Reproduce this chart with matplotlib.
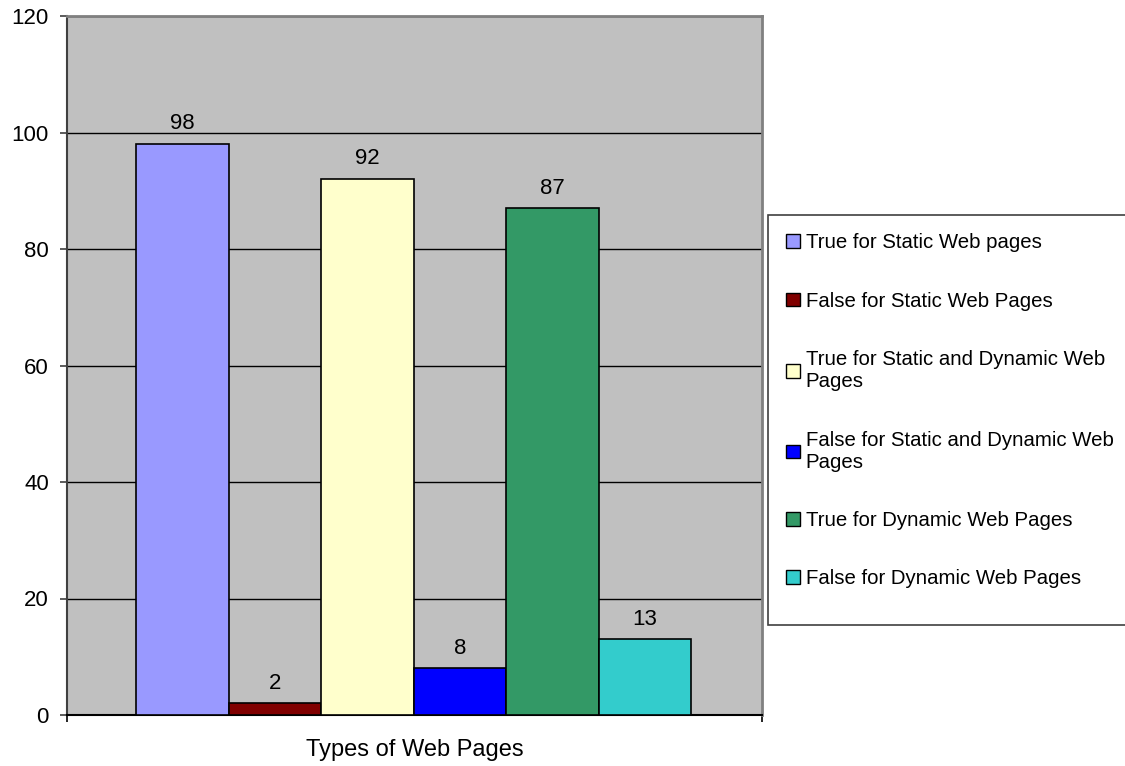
import matplotlib.pyplot as plt
from matplotlib.patches import Patch, Rectangle

plt.rcParams['font.family'] = ['Liberation Sans', 'DejaVu Sans']

# data
series_names = [
    "True for Static Web pages",
    "False for Static Web Pages",
    "True for Static and Dynamic Web\nPages",
    "False for Static and Dynamic Web\nPages",
    "True for Dynamic Web Pages",
    "False for Dynamic Web Pages",
]
series_values = [98, 2, 92, 8, 87, 13]
series_colors = ["#9999FF", "#800000", "#FFFFCC", "#0000FF", "#339966", "#33CCCC"]
y_ticks = [0, 20, 40, 60, 80, 100, 120]
x_label = "Types of Web Pages"

fig = plt.figure(figsize=(11.25, 7.66), dpi=100)
ax = fig.add_axes([67 / 1125, 51 / 766, 695 / 1125, 699 / 766])
ax.set_facecolor("#C0C0C0")

positions = list(range(len(series_values)))
bars = ax.bar(positions, series_values, width=1.0, color=series_colors,
              edgecolor="black", linewidth=1.2, zorder=3)
ax.bar_label(bars, labels=[str(v) for v in series_values], padding=7,
             fontsize=16)

ax.set_xlim(-1.246, 6.267)
ax.set_ylim(0, 120)
ax.set_yticks(y_ticks)
ax.yaxis.grid(True, color="black", linewidth=1.0, zorder=1)
ax.set_axisbelow(True)

# x axis only has small ticks at both ends
ax.set_xticks([-1.246, 6.267])
ax.set_xticklabels(["", ""])
ax.tick_params(axis="x", direction="out", length=5, width=1.2, color="black")
ax.tick_params(axis="y", direction="out", length=5, width=1.2, color="#404040",
               labelsize=16, pad=8)

ax.spines["left"].set_color("#404040")
ax.spines["left"].set_linewidth(1.5)
ax.spines["bottom"].set_color("black")
ax.spines["bottom"].set_linewidth(1.5)
ax.spines["top"].set_color("#808080")
ax.spines["top"].set_linewidth(2)
ax.spines["right"].set_color("#808080")
ax.spines["right"].set_linewidth(2)

ax.set_xlabel(x_label, fontsize=17, labelpad=9)

# legend box (runs off the right edge like the original)
fig.patches.append(Rectangle((768 / 1125, 1 - 625 / 766), 0.4, 410 / 766,
                             transform=fig.transFigure, facecolor="white",
                             edgecolor="#404040", linewidth=1.2, zorder=0))

handles = [Patch(facecolor=c, edgecolor="black", linewidth=1.0) for c in series_colors]
leg = fig.legend(handles, series_names, loc="upper left",
                 bbox_to_anchor=(768 / 1125, 1 - 215 / 766),
                 fontsize=14.7, frameon=False,
                 handlelength=0.65, handleheight=0.65,
                 handletextpad=0.3, labelspacing=1.93, borderpad=0.9,
                 borderaxespad=0)

fig.savefig("out.png", dpi=100)
